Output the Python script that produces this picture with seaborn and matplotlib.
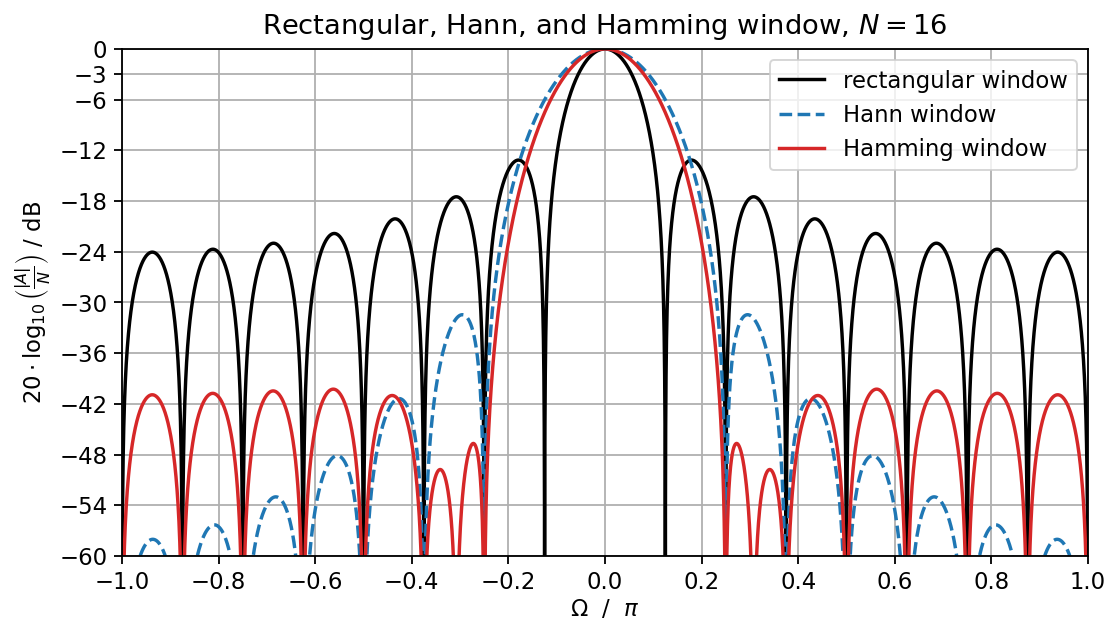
import numpy as np
import pandas as pd
import matplotlib
matplotlib.use("Agg")
import matplotlib.pyplot as plt
import seaborn as sns

N = 16
# window coefficients (symmetric, sampled at n + 1/2)
w_rect = [1.0] * 16
w_hann = [0.0096074, 0.0842652, 0.2222149, 0.4024549, 0.5975451, 0.7777851, 0.9157348, 0.9903926,
          0.9903926, 0.9157348, 0.7777851, 0.5975451, 0.4024549, 0.2222149, 0.0842652, 0.0096074]
w_hamming = [0.0957286, 0.1638944, 0.2898485, 0.4544154, 0.6325412, 0.7971081, 0.9230622, 0.9912281,
             0.9912281, 0.9230622, 0.7971081, 0.6325412, 0.4544154, 0.2898485, 0.1638944, 0.0957286]
labels = ["rectangular window", "Hann window", "Hamming window"]
yticks = [0, -3, -6, -12, -18, -24, -30, -36, -42, -48, -54, -60]

Nfft = 8192
def spectrum(w):
    W = np.fft.fftshift(np.fft.fft(np.asarray(w), Nfft))
    A = np.abs(W)
    with np.errstate(divide="ignore"):
        return 20 * np.log10(A / A.max())

Om = (np.arange(Nfft) - Nfft // 2) / (Nfft / 2)
Om = np.append(Om, 1.0)
frames = []
for w, lab in zip([w_rect, w_hann, w_hamming], labels):
    s = spectrum(w)
    s = np.append(s, s[0])
    s = np.maximum(s, -300)
    frames.append(pd.DataFrame({"Om": Om, "dB": s, "window": lab}))
df = pd.concat(frames, ignore_index=True)

sc = 1.18
plt.rcParams["font.size"] = 10 * sc
plt.rcParams["lines.dashed_pattern"] = [3.7, 1.6]

fig = plt.figure(figsize=(8, 4.5), dpi=139.125)
ax = fig.add_axes([0.1096, 0.1118, 0.9775 - 0.1096, 0.9217 - 0.1118])
styles = {labels[0]: ("k", "-"), labels[1]: ("#1f77b4", "--"), labels[2]: ("#d62728", "-")}
for lab in labels:
    c, ls = styles[lab]
    sns.lineplot(data=df[df["window"] == lab], x="Om", y="dB", ax=ax, color=c,
                 linestyle=ls, label=lab, estimator=None, sort=False, lw=1.5 * sc)
ax.set_xlim(-1, 1)
ax.set_ylim(-60, 0)
ax.set_yticks(yticks)
ax.set_xticks(np.round(np.arange(-1, 1.01, 0.2), 1))
ax.tick_params(width=0.8 * sc, length=3.5 * sc)
for sp in ax.spines.values():
    sp.set_linewidth(0.8 * sc)
ax.grid(True, color="#b0b0b0", lw=0.8 * sc)
ax.set_xlabel(r"$\Omega$  /  $\pi$", labelpad=2)
ax.set_ylabel(r"$20 \cdot \log_{10} \left( \frac{|A|}{N} \right)$ / dB", labelpad=3)
ax.set_title(r"Rectangular, Hann, and Hamming window, $N=16$", fontsize=12 * sc, pad=8)
ax.legend(loc="upper right")
fig.savefig("out.png", dpi=139.125)
